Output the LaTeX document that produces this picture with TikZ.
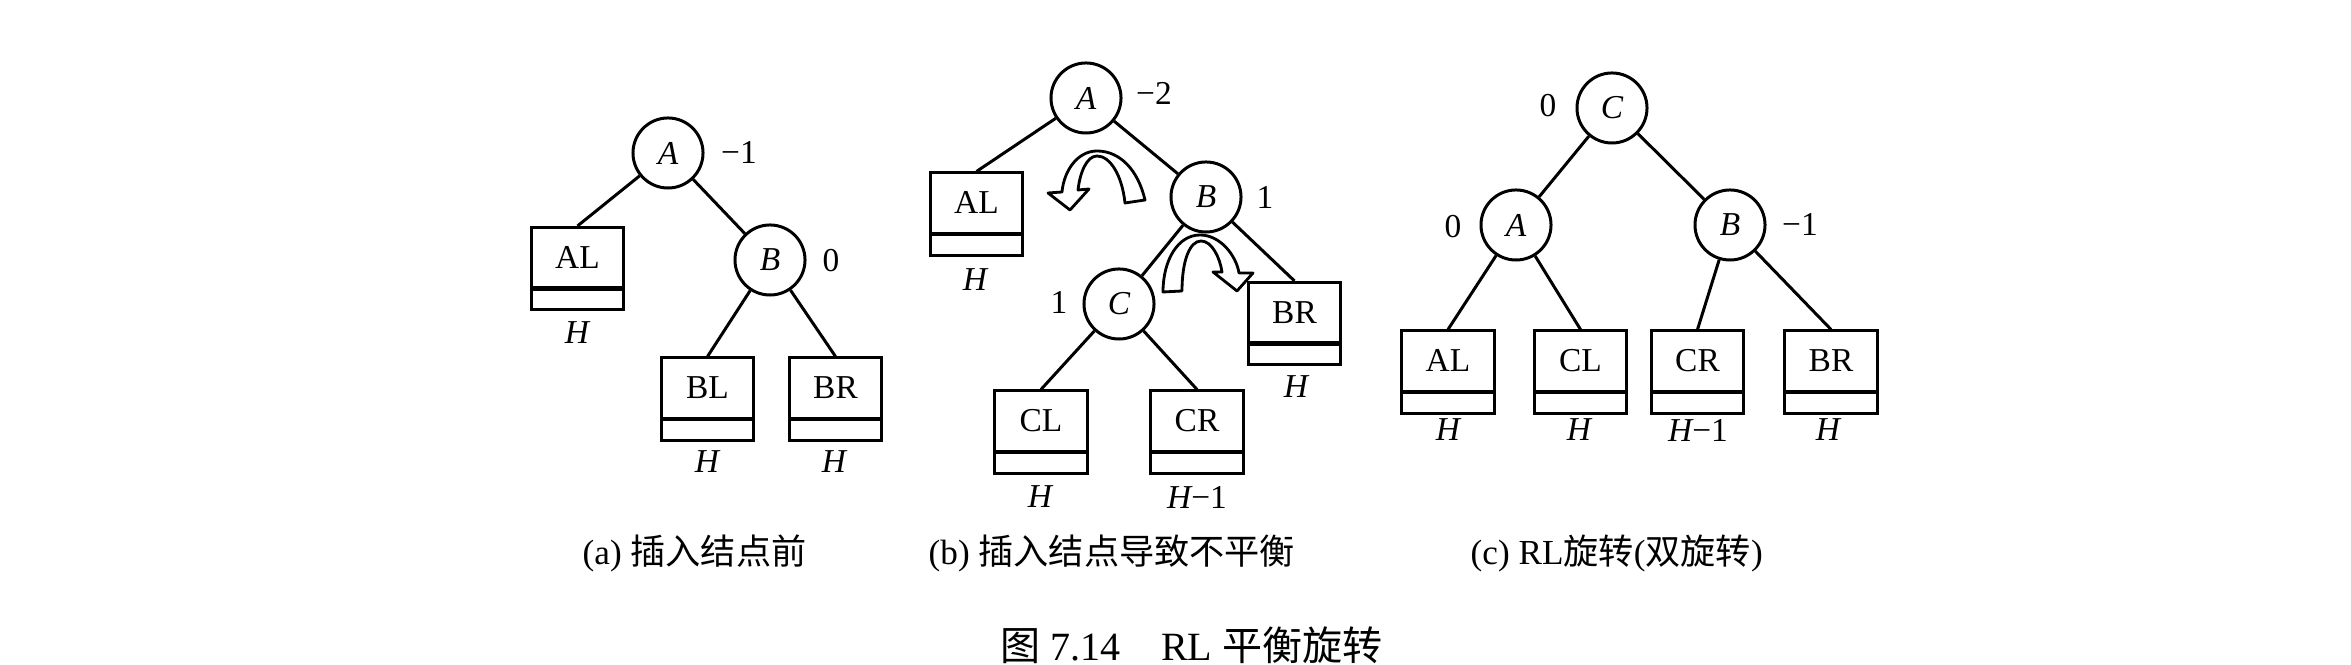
\documentclass[tikz,border=0pt]{standalone}
\usepackage{fontspec}
\setmainfont{Liberation Serif}
\newfontfamily\cjk{Noto Sans CJK SC}
\begin{document}
\begin{tikzpicture}[x=0.01cm,y=-0.01cm,
  circ/.style={circle, draw, line width=0.85pt, minimum size=0.7cm, inner sep=0pt,
    font=\fontsize{9.5}{11}\selectfont\itshape},
  leaf/.style={rectangle, draw, line width=0.85pt, minimum width=0.92cm,
    inner xsep=0pt, inner ysep=0pt, text height=0.41cm, text depth=0.41cm,
    font=\fontsize{9.5}{11}\selectfont,
    path picture={\draw[line width=1.2pt]
      ([yshift=0.21cm]path picture bounding box.south west) --
      ([yshift=0.21cm]path picture bounding box.south east);}},
  bal/.style={font=\fontsize{9.5}{11}\selectfont, inner sep=0pt},
  hlab/.style={font=\fontsize{9.5}{11}\selectfont\itshape, inner sep=0pt},
  edge/.style={line width=0.85pt},
  rot/.style={draw, fill=white, line width=0.8pt, line join=round},
  capt/.style={font=\fontsize{10}{12}\selectfont, inner sep=0pt, anchor=west},
  ttl/.style={font=\fontsize{11.4}{13}\selectfont, inner sep=0pt, anchor=west}]
\useasboundingbox (0,0) rectangle (2351,665);

% ---------- (a) ----------
\node[circ] (aA) at (668,153) {A};
\node[circ] (aB) at (770,260) {B};
\node[leaf] (aAL) at (577.5,268.5) {AL};
\node[leaf] (aBL) at (707.5,399) {BL};
\node[leaf] (aBR) at (835.5,399) {BR};
\node[hlab] (aALh) at (577,333) {H};
\node[hlab] (aBLh) at (707,462) {H};
\node[hlab] (aBRh) at (834,462) {H};
\node[bal] (aAb) at (739,152) {−1};
\node[bal] (aBb) at (831,261) {0};
\draw[edge] (aA) -- (aAL.north);
\draw[edge] (aA) -- (aB);
\draw[edge] (aB) -- (aBL.north);
\draw[edge] (aB) -- (aBR.north);

% ---------- (b) ----------
\node[circ] (bA) at (1086,98) {A};
\node[circ] (bB) at (1206,197) {B};
\node[circ] (bC) at (1119,304) {C};
\node[leaf] (bAL) at (976.5,214) {AL};
\node[leaf] (bBR) at (1294.5,323.5) {BR};
\node[leaf] (bCL) at (1041,432) {CL};
\node[leaf] (bCR) at (1197,432) {CR};
\node[hlab] (bALh) at (975,280) {H};
\node[hlab] (bBRh) at (1296,387) {H};
\node[hlab] (bCLh) at (1040,497) {H};
\node[hlab] (bCRh) at (1197,497) {H\upshape −1};
\node[bal] (bAb) at (1154,93) {−2};
\node[bal] (bBb) at (1265,197) {1};
\node[bal] (bCb) at (1059,302) {1};
\draw[edge] (bA) -- (bAL.north);
\draw[edge] (bA) -- (bB);
\draw[edge] (bB) -- (bC);
\draw[edge] (bB) -- (bBR.north);
\draw[edge] (bC) -- (bCL.north);
\draw[edge] (bC) -- (bCR.north);
% rotation arrows
\draw[rot] (1145,200) .. controls (1138,170) and (1120,151) .. (1097,151)
  .. controls (1078,151) and (1064,170) .. (1062,192) -- (1048,193) -- (1070,210)
  -- (1089,189) -- (1078,190) .. controls (1080,172) and (1087,156) .. (1097,156)
  .. controls (1110,156) and (1122,175) .. (1125,203) -- cycle;
\draw[rot] (1163,292) .. controls (1163,260) and (1178,235) .. (1200,235)
  .. controls (1220,235) and (1236,255) .. (1239,273) -- (1253,273) -- (1237,291)
  -- (1213,272) -- (1222,272) .. controls (1220,258) and (1212,241) .. (1201,241)
  .. controls (1190,241) and (1182,260) .. (1182,291) -- cycle;

% ---------- (c) ----------
\node[circ] (cC) at (1612,108) {C};
\node[circ] (cA) at (1516,225) {A};
\node[circ] (cB) at (1730,225) {B};
\node[leaf] (cAL) at (1448,372) {AL};
\node[leaf] (cCL) at (1580.5,372) {CL};
\node[leaf] (cCR) at (1697.5,372) {CR};
\node[leaf] (cBR) at (1831,372) {BR};
\node[hlab] (cALh) at (1448,430) {H};
\node[hlab] (cCLh) at (1579,430) {H};
\node[hlab] (cCRh) at (1698,430) {H\upshape −1};
\node[hlab] (cBRh) at (1828,430) {H};
\node[bal] (cCb) at (1548,106) {0};
\node[bal] (cAb) at (1453,227) {0};
\node[bal] (cBb) at (1800,224) {−1};
\draw[edge] (cC) -- (cA);
\draw[edge] (cC) -- (cB);
\draw[edge] (cA) -- (cAL.north);
\draw[edge] (cA) -- (cCL.north);
\draw[edge] (cB) -- (cCR.north);
\draw[edge] (cB) -- (cBR.north);

% ---------- captions ----------
\node[capt] (capa) at (582,553) {(a) {\cjk 插入结点前}};
\node[capt] (capb) at (928,553) {(b) {\cjk 插入结点导致不平衡}};
\node[capt] (capc) at (1470,553) {(c) RL{\cjk 旋转}({\cjk 双旋转})};
\node[ttl] (title) at (1000,645) {{\cjk 图} 7.14\quad RL {\cjk 平衡旋转}};
\end{tikzpicture}
\end{document}
